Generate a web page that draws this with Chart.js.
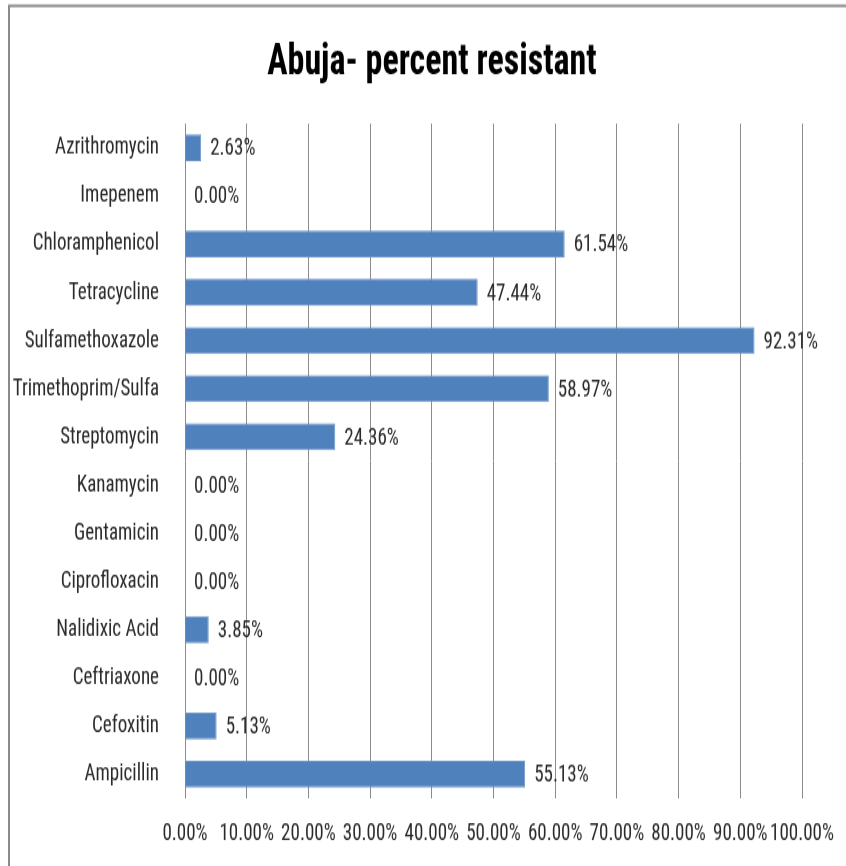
<!DOCTYPE html>
<html>
<head>
<meta charset="utf-8">
<script src="https://cdn.jsdelivr.net/npm/chart.js@4/dist/chart.umd.min.js"></script>
<style>
  body { margin: 0; background: #fff; }
  #wrap { width: 846px; height: 866px; position: relative; }
  /* the original picture is stretched vertically, so the canvas is too */
  #resistance-chart { width: 846px; height: 866px; }
</style>
</head>
<body>
<div id="wrap"><canvas id="resistance-chart" width="846" height="666" style="width:846px;height:866px"></canvas></div>
<script>
// data
var drugs = ["Azrithromycin", "Imepenem", "Chloramphenicol", "Tetracycline", "Sulfamethoxazole",
  "Trimethoprim/Sulfa", "Streptomycin", "Kanamycin", "Gentamicin", "Ciprofloxacin",
  "Nalidixic Acid", "Ceftriaxone", "Cefoxitin", "Ampicillin"];
var percentResistant = [2.63, 0, 61.54, 47.44, 92.31, 58.97, 24.36, 0, 0, 0, 3.85, 0, 5.13, 55.13];
var xTicks = [0, 10, 20, 30, 40, 50, 60, 70, 80, 90, 100];
var chartTitle = "Abuja- percent resistant";

var fontFamily = "'Roboto Condensed', 'DejaVu Sans Condensed', 'Liberation Sans', sans-serif";

// value labels at the end of each bar
var barLabels = {
  id: 'barLabels',
  afterDatasetsDraw: function(chart) {
    var ctx = chart.ctx;
    var meta = chart.getDatasetMeta(0);
    ctx.save();
    ctx.font = "19px " + fontFamily;
    ctx.fillStyle = "#2a2a2a";
    ctx.textAlign = "left";
    ctx.textBaseline = "middle";
    meta.data.forEach(function(bar, i) {
      ctx.fillText(percentResistant[i].toFixed(2) + "%", bar.x + 9, bar.y + 1);
    });
    ctx.restore();
  }
};

// outer frame + title
var frame = {
  id: 'frame',
  beforeDraw: function(chart) {
    var ctx = chart.ctx;
    ctx.save();
    ctx.strokeStyle = "#8a8a8a";
    ctx.lineWidth = 2;
    ctx.beginPath();
    ctx.moveTo(9, chart.height + 5);
    ctx.lineTo(9, 4.6);
    ctx.lineTo(chart.width + 5, 4.6);
    ctx.stroke();

    ctx.font = "bold 34px " + fontFamily;
    ctx.fillStyle = "#000";
    ctx.textAlign = "center";
    ctx.textBaseline = "middle";
    ctx.fillText(chartTitle, 432, 48);
    ctx.restore();
  }
};

var resistanceChart = new Chart(document.getElementById("resistance-chart"), {
  type: 'bar',
  data: {
    labels: drugs,
    datasets: [{
      label: "Percent resistant",
      data: percentResistant,
      backgroundColor: "#4F81BD",
      borderColor: "#6f97c8",
      borderWidth: 1,
      barPercentage: 0.56,
      categoryPercentage: 1.0
    }]
  },
  options: {
    indexAxis: 'y',
    responsive: false,
    animation: false,
    layout: { padding: { left: 0, right: 44, top: 95, bottom: 0 } },
    plugins: {
      legend: { display: false },
      tooltip: { enabled: false },
      title: { display: false }
    },
    scales: {
      x: {
        min: 0,
        max: 100,
        afterBuildTicks: function(scale) {
          scale.ticks = xTicks.map(function(v) { return { value: v }; });
        },
        afterFit: function(scale) {
          scale.height = 52;
          scale.paddingLeft = 0;
          scale.paddingRight = 0;
        },
        grid: { color: "#8c8c8c", lineWidth: 1, drawTicks: false },
        border: { display: false },
        ticks: {
          padding: 16,
          color: "#2a2a2a",
          font: { family: fontFamily, size: 19 },
          maxRotation: 0,
          autoSkip: false,
          callback: function(v) { return v.toFixed(2) + "%"; }
        }
      },
      y: {
        afterFit: function(scale) { scale.width = 185; },
        grid: { display: false },
        border: { display: false },
        ticks: {
          padding: 18,
          color: "#2a2a2a",
          font: { family: fontFamily, size: 19 },
          autoSkip: false
        }
      }
    }
  },
  plugins: [frame, barLabels]
});
</script>
</body>
</html>
